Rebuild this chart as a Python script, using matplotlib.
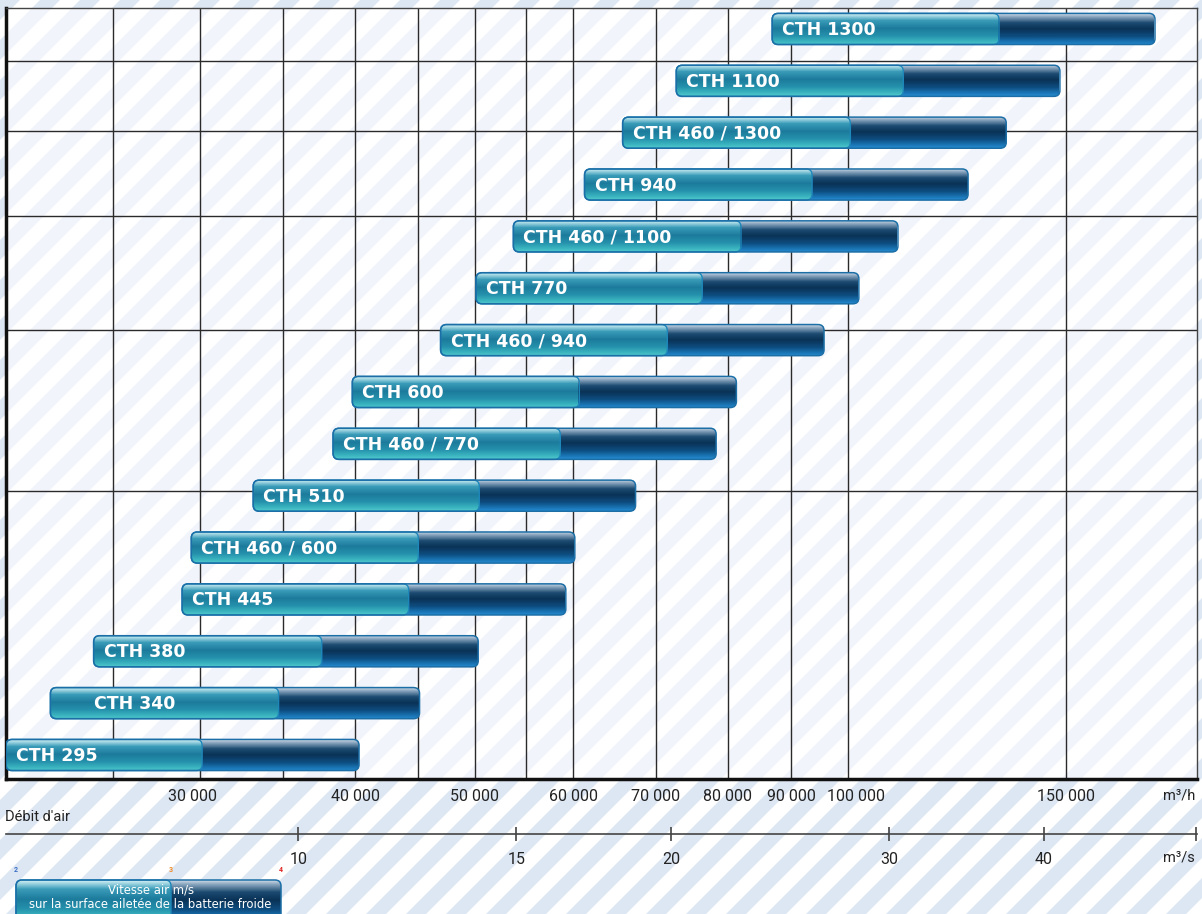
import numpy as np
import matplotlib.pyplot as plt
import matplotlib.transforms as mtransforms
from matplotlib.colors import LinearSegmentedColormap
from matplotlib.patches import FancyBboxPatch, Polygon
from matplotlib.ticker import FixedLocator, FixedFormatter, NullLocator

# air flow (m3/h) per unit at 2, 3 and 4 m/s on the coil face
models = ["CTH 295", "CTH 340", "CTH 380", "CTH 445", "CTH 460 / 600", "CTH 510",
          "CTH 460 / 770", "CTH 600", "CTH 460 / 940", "CTH 770", "CTH 460 / 1100",
          "CTH 940", "CTH 460 / 1300", "CTH 1100", "CTH 1300"]
flow_2ms = [20900, 22700, 24600, 29000, 29500, 33100, 38400, 39800, 46900, 50100,
            53700, 61300, 65800, 72700, 86900]
flow_3ms = [30100, 34700, 37600, 44200, 45000, 50400, 58600, 60700, 71500, 76300,
            82000, 93600, 100500, 110900, 132500]
flow_4ms = [40300, 45100, 50300, 59200, 60200, 67400, 78300, 81300, 95700, 102100,
            109800, 125100, 134300, 148400, 177100]

grid_flows = [25500, 30000, 35000, 40000, 45000, 50000, 55000, 60000, 70000, 80000,
              90000, 100000, 150000]
grid_rows = [5.09, 8.2, 10.39, 12.03, 13.38]
tick_flows = [30000, 40000, 50000, 60000, 70000, 80000, 90000, 100000, 150000]
tick_labels = ["30 000", "40 000", "50 000", "60 000", "70 000", "80 000", "90 000",
               "100 000", "150 000"]
speed_ticks = [10, 15, 20, 30, 40]
legend_speeds = [2, 3, 4]

W, H = 1202, 914
fig = plt.figure(figsize=(W / 100, H / 100), dpi=100)
plt.rcParams["font.family"] = ["Roboto", "DejaVu Sans"]

# striped background
bg = fig.add_axes([0, 0, 1, 1], zorder=0)
bg.set_xlim(0, W)
bg.set_ylim(0, H)
bg.axis("off")
for c in np.arange(-H - 40, W + 40, 40):
    bg.add_patch(Polygon([(c, 0), (c + 20, 0), (c + 20 + H, H), (c + H, H)],
                         closed=True, fc="#dde6f3", ec="none"))

ax = fig.add_axes([6 / W, (H - 779) / H, (1197 - 6) / W, (779 - 8) / H], zorder=1)
ax.set_facecolor((1, 1, 1, 0.6))
ax.set_xscale("log")
XLIM = (20900, 191500)
YLIM = (-0.463, 14.404)

light_cmap = LinearSegmentedColormap.from_list("light", [
    (0.0, "#d6eff5"), (0.08, "#9ed5e1"), (0.22, "#3b9cb9"), (0.48, "#1c7b9c"),
    (0.72, "#2591ac"), (0.9, "#39b3bf"), (1.0, "#4cc5c9")])
dark_cmap = LinearSegmentedColormap.from_list("dark", [
    (0.0, "#d0dbe6"), (0.1, "#8aa6bf"), (0.3, "#1b4a70"), (0.5, "#0a3256"),
    (0.75, "#0e4f82"), (0.92, "#1a74b5"), (1.0, "#2389cc")])
grad = np.linspace(0, 1, 64).reshape(-1, 1)


def glossy_bar(axis, xa, xm, xb, ya, yb, rad=0.06):
    pa = axis.transData.transform((xa, ya)) / fig.dpi
    pm = axis.transData.transform((xm, yb)) / fig.dpi
    pb = axis.transData.transform((xb, yb)) / fig.dpi
    style = f"round,pad=0,rounding_size={rad}"
    full = FancyBboxPatch(tuple(pa), pb[0] - pa[0], pb[1] - pa[1], boxstyle=style,
                          transform=fig.dpi_scale_trans, fc="none", ec="#1b6ea6",
                          lw=1.1, zorder=6)
    left = FancyBboxPatch(tuple(pa), pm[0] - pa[0], pm[1] - pa[1], boxstyle=style,
                          transform=fig.dpi_scale_trans, fc="none", ec="#1f88bb",
                          lw=1.0, zorder=5.5)
    axis.add_patch(full)
    axis.add_patch(left)
    im1 = axis.imshow(grad, extent=(xa, xb, ya, yb), origin="upper", cmap=dark_cmap,
                      aspect="auto", interpolation="bilinear", zorder=4)
    im1.set_clip_path(full)
    im2 = axis.imshow(grad, extent=(xa, xm, ya, yb), origin="upper", cmap=light_cmap,
                      aspect="auto", interpolation="bilinear", zorder=5)
    im2.set_clip_path(left)


ax.set_xlim(*XLIM)
ax.set_ylim(*YLIM)

for gx in grid_flows:
    ax.axvline(gx, color="#2a2a2a", lw=1.0, zorder=1)
for gy in grid_rows:
    ax.axhline(gy, color="#2a2a2a", lw=1.0, zorder=1)

h = 0.6
text_pad = {"CTH 340": 44}
for i, name in enumerate(models):
    glossy_bar(ax, flow_2ms[i], flow_3ms[i], flow_4ms[i], i - h / 2, i + h / 2)
    ax.annotate(name, xy=(flow_2ms[i], i), xytext=(text_pad.get(name, 10), -1),
                textcoords="offset pixels", ha="left", va="center", color="white",
                fontsize=12.5, fontweight="bold", family="DejaVu Sans", zorder=7)

ax.set_xlim(*XLIM)
ax.set_ylim(*YLIM)
ax.xaxis.set_major_locator(FixedLocator(tick_flows))
ax.xaxis.set_major_formatter(FixedFormatter(tick_labels))
ax.xaxis.set_minor_locator(NullLocator())
ax.tick_params(axis="x", length=0, pad=7, labelsize=11.5, labelcolor="#222222")
ax.set_yticks([])
label_shift = {"30 000": -8, "100 000": 8}
fig.canvas.draw()
for lab in ax.get_xticklabels():
    dx = label_shift.get(lab.get_text(), 0)
    if dx:
        lab.set_transform(lab.get_transform() +
                          mtransforms.ScaledTranslation(dx / 100, 0, fig.dpi_scale_trans))
for side in ["left", "bottom"]:
    ax.spines[side].set_linewidth(2.5)
    ax.spines[side].set_color("#111111")
for side in ["top", "right"]:
    ax.spines[side].set_linewidth(1.0)
    ax.spines[side].set_color("#444444")

# second scale in m3/s
sec = ax.secondary_xaxis(-0.0713, functions=(lambda x: x / 3600, lambda x: x * 3600))
sec.xaxis.set_major_locator(FixedLocator(speed_ticks + [53.1]))
sec.xaxis.set_major_formatter(FixedFormatter([str(s) for s in speed_ticks] + [""]))
sec.xaxis.set_minor_locator(NullLocator())
sec.spines["bottom"].set_color("#444444")
sec.spines["bottom"].set_linewidth(1.2)
sec.tick_params(axis="x", direction="inout", length=10, width=1.2, color="#444444",
                pad=8, labelsize=11.5, labelcolor="#222222")

fig.text(1195 / W, 1 - 795 / H, "m³/h", ha="right", va="center", fontsize=10.5,
         color="#222222")
fig.text(1195 / W, 1 - 858 / H, "m³/s", ha="right", va="center", fontsize=10.5,
         color="#222222")
fig.text(5 / W, 1 - 817 / H, "Débit d'air", ha="left", va="center", fontsize=10.5,
         color="#222222")

# legend bar (air speed on the coil face)
lx0, lx1 = 16, 281
lpos = [lx0 + (lx1 - lx0) * np.log(v / legend_speeds[0]) / np.log(legend_speeds[-1] / legend_speeds[0])
        for v in legend_speeds]
glossy_bar(bg, lpos[0], lpos[1], lpos[2], -6, H - 880)
bg.set_xlim(0, W)
bg.set_ylim(0, H)
for v, xp, col in zip(legend_speeds, lpos, ["#3b6fc4", "#f08a24", "#e02020"]):
    bg.text(xp, H - 870, str(v), ha="center", va="center", fontsize=5, color=col,
            fontweight="bold")
bg.text((lx0 + lx1) / 2 + 2, H - 890, "Vitesse air m/s", ha="center", va="center",
        fontsize=8.4, color="white", family="DejaVu Sans", zorder=8)
bg.text((lx0 + lx1) / 2 + 2, H - 905, "sur la surface ailetée de la batterie froide",
        ha="center", va="center", fontsize=8.4, color="white", family="DejaVu Sans",
        zorder=8)

fig.savefig("out.png", dpi=100)
